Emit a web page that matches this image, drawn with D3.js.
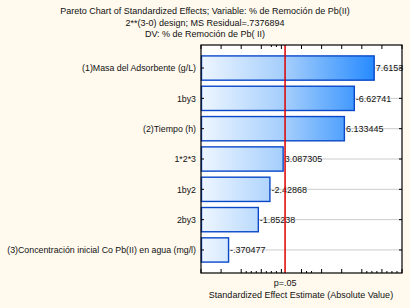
<!DOCTYPE html>
<html>
<head>
<meta charset="utf-8">
<script src="https://cdn.jsdelivr.net/npm/d3@7"></script>
<style>
  body { margin: 0; background: #fff9ee; }
  svg { display: block; font-family: "Liberation Sans", Arial, sans-serif; }
</style>
</head>
<body>
<svg id="chart" width="410" height="308"></svg>
<script>
// data
const effect_names = ["(1)Masa del Adsorbente (g/L)", "1by3", "(2)Tiempo (h)", "1*2*3", "1by2", "2by3",
    "(3)Concentración inicial Co Pb(II) en agua (mg/l)"];
const effect_values = [7.6153, -6.62741, 6.133445, 3.087305, -2.42868, -1.85238, -0.370477];
const effect_labels = ["7.6153", "-6.62741", "6.133445", "3.087305", "-2.42868", "-1.85238", "-.370477"];
const p_value_line = 3.182446;   // t(.975, 3)
const x_major_ticks = [-1, 0, 1, 2, 3, 4, 5, 6, 7, 8, 9];
const x_minor_bottom = [1.25, 1.5, 1.75, 2.25, 2.5, 2.75, 4.25, 4.5, 7.25, 7.5, 7.75, 8.25, 8.5, 8.75];
const x_minor_top = [2.5, 2.75];
const title_lines = ["Pareto Chart of Standardized Effects; Variable: % de Remoción de Pb(II)",
    "2**(3-0) design; MS Residual=.7376894", "DV: % de Remoción de Pb( II)"];

const svg = d3.select("#chart");
const margins = { top: 45, right: 8, bottom: 35, left: 201 };
const W = 410, H = 308;
const plotR = W - margins.right, plotB = H - margins.bottom;

var x = d3.scaleLinear().domain([-1, 9]).range([margins.left, plotR]);
var y = d3.scaleBand().domain(effect_names).range([margins.top, plotB])
    .paddingInner(0.2).paddingOuter(0.36);

// title
svg.append("g").selectAll("text")
    .data(title_lines)
    .join("text")
    .attr("x", 205)
    .attr("y", (d, i) => 14 + i * 11.7)
    .attr("text-anchor", "middle")
    .attr("font-size", "9px")
    .attr("fill", "#111")
    .text(d => d);

const defs = svg.append("defs");
const grad = defs.append("linearGradient")
    .attr("id", "barGrad")
    .attr("gradientUnits", "userSpaceOnUse")
    .attr("x1", margins.left).attr("x2", x(7.8))
    .attr("y1", 0).attr("y2", 0);
grad.append("stop").attr("offset", "0%").attr("stop-color", "#eef6ff");
grad.append("stop").attr("offset", "50%").attr("stop-color", "#9fcbfc");
grad.append("stop").attr("offset", "100%").attr("stop-color", "#2288ff");

// plot area
svg.append("rect")
    .attr("x", margins.left).attr("y", margins.top)
    .attr("width", plotR - margins.left).attr("height", plotB - margins.top)
    .attr("fill", "white");

// grid lines at the category centres
svg.append("g").selectAll("line")
    .data(effect_names)
    .join("line")
    .attr("x1", margins.left).attr("x2", plotR)
    .attr("y1", d => y(d) + y.bandwidth() / 2)
    .attr("y2", d => y(d) + y.bandwidth() / 2)
    .attr("stroke", "#cccccc")
    .attr("stroke-width", 1);

// bars
const rows = effect_names.map((n, i) => ({ name: n, value: effect_values[i], label: effect_labels[i] }));

svg.append("g").selectAll("rect")
    .data(rows)
    .join("rect")
    .attr("x", x(-1) + 0.5)
    .attr("y", d => y(d.name))
    .attr("width", d => x(Math.abs(d.value)) - x(-1) - 0.5)
    .attr("height", y.bandwidth())
    .attr("fill", "url(#barGrad)")
    .attr("stroke", "#0a48c8")
    .attr("stroke-width", 1.4);

// value labels
svg.append("g")
    .selectAll("text")
    .data(rows)
    .join("text")
    .attr("x", d => x(Math.abs(d.value)) + 1.5)
    .attr("y", d => y(d.name) + y.bandwidth() / 2 + 3.3)
    .attr("font-size", "9px")
    .attr("fill", "#111")
    .text(d => d.label);

// category labels
svg.append("g").selectAll("text")
    .data(effect_names)
    .join("text")
    .attr("x", 196)
    .attr("y", d => y(d) + y.bandwidth() / 2 + 3.3)
    .attr("text-anchor", "end")
    .attr("font-size", "8.8px")
    .attr("fill", "#111")
    .text(d => d);

// p=.05 line
svg.append("line")
    .attr("x1", x(p_value_line)).attr("x2", x(p_value_line))
    .attr("y1", margins.top).attr("y2", plotB)
    .attr("stroke", "#e00000")
    .attr("stroke-width", 1.5);

// ticks (inside the frame)
const tk = svg.append("g").attr("stroke", "#000").attr("stroke-width", 1);
tk.selectAll(".tb").data(x_major_ticks).join("line")
    .attr("x1", d => x(d)).attr("x2", d => x(d))
    .attr("y1", plotB).attr("y2", plotB - 4);
tk.selectAll(".tbm").data(x_minor_bottom).join("line")
    .attr("x1", d => x(d)).attr("x2", d => x(d))
    .attr("y1", plotB).attr("y2", plotB - 2);
tk.selectAll(".tt").data(x_major_ticks.concat(x_minor_top)).join("line")
    .attr("x1", d => x(d)).attr("x2", d => x(d))
    .attr("y1", margins.top).attr("y2", (d, i) => margins.top + (i < x_major_ticks.length ? 4 : 2));
tk.selectAll(".tr").data(effect_names).join("line")
    .attr("x1", plotR).attr("x2", plotR - 3)
    .attr("y1", d => y(d) + y.bandwidth() / 2)
    .attr("y2", d => y(d) + y.bandwidth() / 2);
tk.selectAll(".tl").data(effect_names).join("line")
    .attr("x1", margins.left).attr("x2", margins.left + 3)
    .attr("y1", d => y(d) + y.bandwidth() / 2)
    .attr("y2", d => y(d) + y.bandwidth() / 2);

// frame
svg.append("rect")
    .attr("x", margins.left).attr("y", margins.top)
    .attr("width", plotR - margins.left).attr("height", plotB - margins.top)
    .attr("fill", "none")
    .attr("stroke", "#000")
    .attr("stroke-width", 1.2);

// axis texts
svg.append("text")
    .attr("x", x(p_value_line))
    .attr("y", 286)
    .attr("text-anchor", "middle")
    .attr("font-size", "9px")
    .attr("fill", "#111")
    .text("p=.05");

svg.append("text")
    .attr("x", 301)
    .attr("y", 298)
    .attr("text-anchor", "middle")
    .attr("font-size", "9px")
    .attr("fill", "#111")
    .text("Standardized Effect Estimate (Absolute Value)");
</script>
</body>
</html>
